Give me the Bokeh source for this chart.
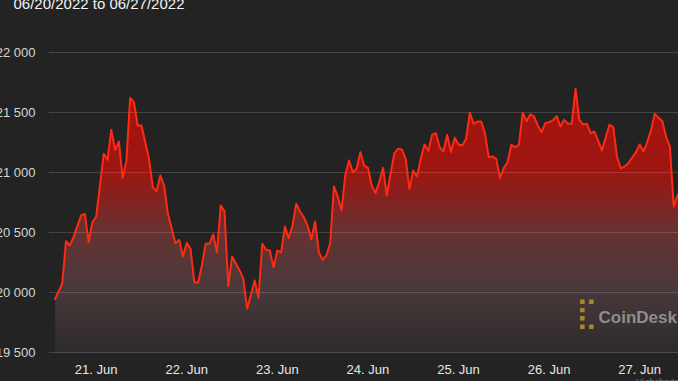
import numpy as np
import pandas as pd
from bokeh.plotting import figure
from bokeh.models import Range1d, FixedTicker, DatetimeTickFormatter, Label, Title
from bokeh.embed import file_html
from bokeh.resources import INLINE

try:
    from bokeh.models import GlobalInlineStyleSheet
except ImportError:
    GlobalInlineStyleSheet = None

# ---------------- data (hourly BTC price) ----------------
start_time = "2022-06-20 13:00"
prices = [
    19937, 20005, 20070, 20425, 20389, 20458, 20550, 20639, 20653, 20417, 20583,   # 20 Jun 13h-23h
    20631, 20890, 21153, 21103, 21353, 21187, 21256, 20953, 21092, 21620, 21583, 21389,
    21389, 21250, 21111, 20875, 20842, 20972, 20889, 20653, 20530, 20408, 20436, 20297,  # 21 Jun
    20411, 20361, 20083, 20078, 20222, 20403, 20403, 20481, 20333, 20722, 20675, 20050,
    20297, 20240, 20181, 20111, 19861, 19980, 20097, 19953, 20403, 20353, 20347, 20208,  # 22 Jun
    20347, 20333, 20547, 20450, 20556, 20736, 20675, 20625, 20556, 20439, 20589, 20333,
    20270, 20306, 20408, 20883, 20797, 20681, 20978, 21097, 21000, 21028, 21167, 21056,  # 23 Jun
    21036, 20889, 20825, 20917, 21036, 20806, 20986, 21158, 21195, 21189, 21111, 20861,
    21014, 20964, 21111, 21231, 21178, 21311, 21325, 21208, 21172, 21311, 21167, 21287,  # 24 Jun
    21231, 21222, 21278, 21495, 21403, 21422, 21422, 21325, 21125, 21131, 21111, 20950,
    21036, 21083, 21228, 21208, 21228, 21495, 21425, 21481, 21464, 21389, 21333, 21408,  # 25 Jun
    21417, 21431, 21467, 21381, 21436, 21403, 21403, 21695, 21436, 21397, 21403, 21325,
    21339, 21260, 21181, 21290, 21395, 21375, 21125, 21033, 21047, 21075, 21120, 21167,  # 26 Jun
    21231, 21172, 21250, 21347, 21486, 21453, 21425, 21292, 21214, 20714, 20806, 20850,
]
times = pd.date_range(start_time, periods=len(prices), freq="h")

x_view_start = "2022-06-20 11:22"
x_view_end = "2022-06-27 10:17"
y_view_start = 19489
y_view_end = 22264

day_ticks = ["2022-06-21", "2022-06-22", "2022-06-23", "2022-06-24",
             "2022-06-25", "2022-06-26", "2022-06-27"]
y_ticks = [19500, 20000, 20500, 21000, 21500, 22000]
y_tick_labels = ["19 500", "20 000", "20 500", "21 000", "21 500", "22 000"]

title_text = "06/20/2022 to 06/27/2022"
credit_text = "Highcharts.com"
watermark_text = "CoinDesk"

# ---------------- styling / layout ----------------
BG = "#232323"
LINE = "#ff2a12"
SHIFT_X, SHIFT_Y = 8, 18         # canvas starts this far left/above the window
FRAME_L, FRAME_T, FRAME_B, FRAME_R = 48, 20, 353, 678   # frame in window pixels
CANVAS_W = FRAME_R + SHIFT_X
BORDER_B = 40
CANVAS_H = FRAME_B + BORDER_B + SHIFT_Y


def ms(v):
    return float(pd.Timestamp(v).value // 10**6)


t_ms = np.array([ms(t) for t in times])
xs, xe = ms(x_view_start), ms(x_view_end)
tick_ms = [ms(d) for d in day_ticks]

p = figure(width=CANVAS_W, height=CANVAS_H, x_axis_type="datetime",
           x_range=Range1d(xs, xe), y_range=Range1d(y_view_start, y_view_end),
           output_backend="svg", toolbar_location=None, outline_line_color=None,
           min_border_left=FRAME_L + SHIFT_X, min_border_right=0,
           min_border_top=FRAME_T + SHIFT_Y, min_border_bottom=BORDER_B)
p.background_fill_color = BG
p.border_fill_color = BG
p.styles = {"margin-left": f"-{SHIFT_X}px", "margin-top": f"-{SHIFT_Y}px"}
if GlobalInlineStyleSheet is not None:
    p.stylesheets = [GlobalInlineStyleSheet(
        css="html, body { margin: 0; padding: 0; overflow: hidden; background: #232323; }")]

# title (partly above the window, as in the reference)
p.add_layout(Title(text=title_text, align="left", offset=13 - FRAME_L, standoff=18,
                   text_font="Liberation Sans", text_font_size="15px",
                   text_font_style="normal", text_color="#f2f2f2"), "above")

# vertical gradient (image) under the price line
frame_h = FRAME_B - FRAME_T
img_top = max(prices) + 20
ny = 400
vals = np.linspace(y_view_start, img_top, ny)
ypx = FRAME_T + (y_view_end - vals) / (y_view_end - y_view_start) * frame_h
stop_px = [88, 170, 230, 285, 353]
stop_r = [168, 158, 105, 75, 45]
stop_g = [20, 22, 50, 58, 43]
stop_b = [15, 18, 50, 60, 44]
img = np.empty((ny, 1), dtype=np.uint32)
view = img.view(dtype=np.uint8).reshape((ny, 1, 4))
view[:, 0, 0] = np.interp(ypx, stop_px, stop_r).astype(np.uint8)
view[:, 0, 1] = np.interp(ypx, stop_px, stop_g).astype(np.uint8)
view[:, 0, 2] = np.interp(ypx, stop_px, stop_b).astype(np.uint8)
view[:, 0, 3] = 255
edge = 0.15 * 3600 * 1000   # keep the gradient's left edge just inside the mask
p.image_rgba(image=[img], x=t_ms[0] + edge, y=y_view_start, dw=t_ms[-1] - t_ms[0] - edge,
             dh=img_top - y_view_start, level="image")
# mask everything above the line with the background colour
p.varea(x=t_ms, y1=prices, y2=[y_view_end + 200] * len(prices), fill_color=BG, level="image")

# grid
p.xgrid.visible = False
p.xgrid.grid_line_color = None
p.ygrid.ticker = FixedTicker(ticks=y_ticks)
p.ygrid.grid_line_color = "white"
p.ygrid.grid_line_alpha = 0.15
p.ygrid.grid_line_width = 1

# price line
p.line(t_ms, prices, line_color=LINE, line_width=2, line_join="round")

# y axis
p.yaxis.ticker = FixedTicker(ticks=y_ticks)
p.yaxis.major_label_overrides = dict(zip(y_ticks, y_tick_labels))
p.yaxis.axis_line_color = None
p.yaxis.major_tick_line_color = None
p.yaxis.minor_tick_line_color = None
p.yaxis.major_tick_out = 0
p.yaxis.major_tick_in = 0
p.yaxis.major_label_standoff = 13
p.yaxis.major_label_text_font = "Liberation Sans"
p.yaxis.major_label_text_font_size = "13px"
p.yaxis.major_label_text_color = "#d6d6d6"

# x axis
p.xaxis.ticker = FixedTicker(ticks=tick_ms)
p.xaxis.formatter = DatetimeTickFormatter(days="%d. %b", months="%d. %b", hours="%d. %b")
p.xaxis.axis_line_color = None
p.xaxis.major_tick_line_color = None
p.xaxis.minor_tick_line_color = None
p.xaxis.major_tick_out = 0
p.xaxis.major_tick_in = 0
p.xaxis.major_label_standoff = 8
p.xaxis.major_label_text_font = "Liberation Sans"
p.xaxis.major_label_text_font_size = "13px"
p.xaxis.major_label_text_color = "#e6e6e6"

# credit under the axis labels, right-aligned and cut by the window edges
credit = Title(text=credit_text, align="right", offset=-20, standoff=0,
               text_font="Liberation Sans", text_font_size="9px",
               text_font_style="normal", text_color="#808080", vertical_align="top")
try:
    credit.standoff = -6
except Exception:
    pass
p.add_layout(credit, "below")

# CoinDesk watermark (inside the plot area)
p.add_layout(Label(x=xs, y=y_view_start, x_offset=575 - FRAME_L, y_offset=FRAME_B - 312,
                   text="\u28CF", text_font="DejaVu Sans", text_font_size="30px",
                   text_color="#a8882c", text_baseline="middle"))
p.add_layout(Label(x=xs, y=y_view_start, x_offset=598 - FRAME_L, y_offset=FRAME_B - 317,
                   text=watermark_text, text_font="Liberation Sans", text_font_size="17px",
                   text_font_style="bold", text_color="#8e8e8e", text_baseline="alphabetic"))

open("out.html", "w").write(file_html(p, INLINE))
